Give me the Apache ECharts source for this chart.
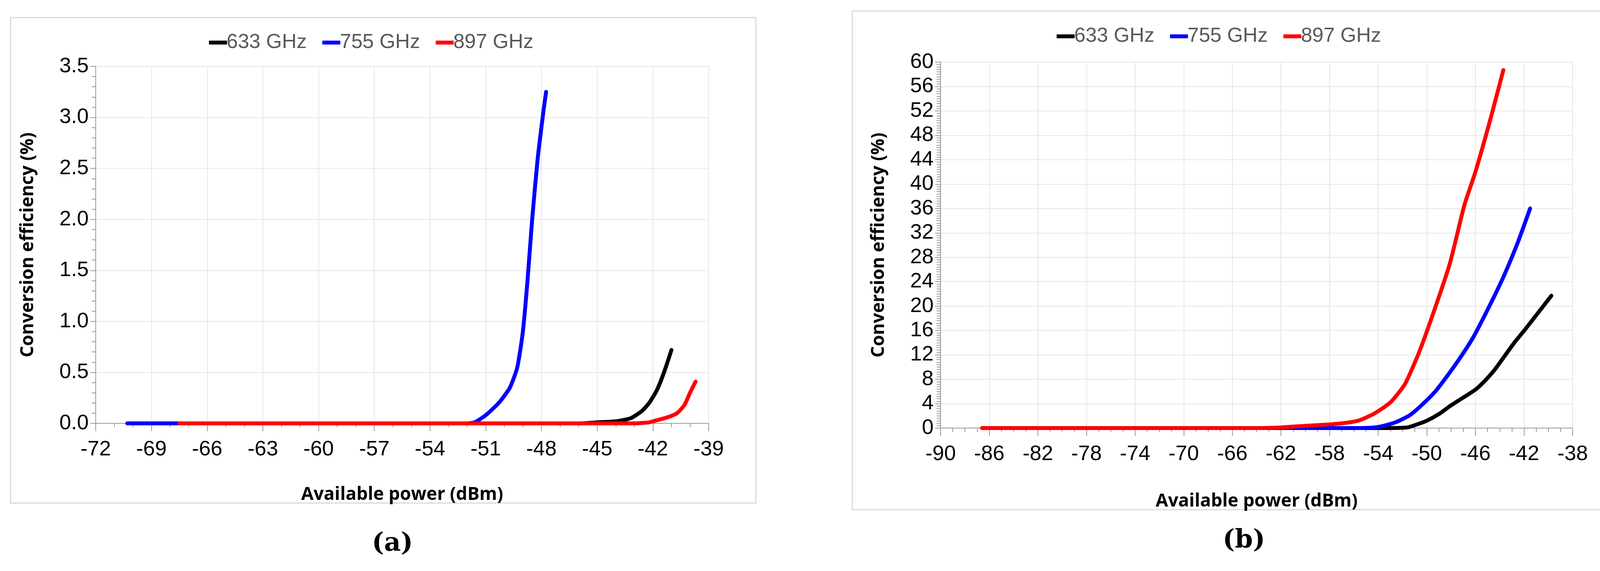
<!DOCTYPE html>
<html>
<head>
<meta charset="utf-8">
<style>
html,body{margin:0;width:100%;height:100%;background:#fff;overflow:hidden;}
#chart{width:100%;height:100%;}
</style>
</head>
<body>
<div id="chart"></div>
<script src="https://cdn.jsdelivr.net/npm/echarts@6/dist/echarts.min.js"></script>
<script>
// panel (a)
var a633 = [[-67.5,0],[-50,0],[-46,0],[-45,0.01],[-44,0.02],[-43.2,0.05],[-42.6,0.12],[-42.2,0.2],[-41.8,0.32],[-41.4,0.5],[-41.0,0.72]];
var a755 = [[-70.3,0],[-54,0],[-52,0],[-51.6,0.01],[-51,0.08],[-50.3,0.2],[-49.7,0.35],[-49.3,0.55],[-49.0,0.9],[-48.75,1.4],[-48.5,2.0],[-48.2,2.6],[-47.9,3.05],[-47.75,3.25]];
var a897 = [[-67.5,0],[-46,0],[-43,0],[-42.2,0.01],[-41.8,0.03],[-41.2,0.06],[-40.7,0.1],[-40.3,0.18],[-40.0,0.3],[-39.7,0.41]];
// panel (b)
var b633 = [[-67.5,0],[-54,0],[-51.6,0.1],[-50.8,0.6],[-50,1.2],[-49,2.3],[-48.1,3.6],[-47,5],[-46,6.3],[-45.2,7.8],[-44.4,9.6],[-43.6,11.8],[-42.8,14],[-41.9,16.2],[-40.8,19],[-39.75,21.7]];
var b755 = [[-63,0],[-56,0],[-54.3,0.1],[-53.5,0.4],[-52.5,1.0],[-51.4,2.1],[-50.4,3.8],[-49.3,6],[-48.3,8.6],[-47.3,11.4],[-46.2,14.8],[-45.2,18.6],[-44.4,21.8],[-43.6,25.2],[-42.5,30.5],[-41.5,36]];
var b897 = [[-86.6,0],[-64,0],[-62.5,0.05],[-60.5,0.3],[-58,0.6],[-56.5,0.9],[-55.5,1.3],[-54.3,2.4],[-53,4.2],[-51.8,7.2],[-50.6,12.6],[-49.3,19.8],[-48.1,27],[-46.9,36.6],[-46,42],[-44.8,50.4],[-43.7,58.7]];
var seriesNames = ['633 GHz','755 GHz','897 GHz'];
var colors = ['#000000','#0000ff','#ff0000'];
var bShift = 2; // axis b runs -90..-38 step 4; shift so ticks land on min

var chart = echarts.init(document.getElementById('chart'));
var labelFont = {fontFamily:'Liberation Sans', fontSize:54, color:'#000'};
var titleFont = {fontFamily:'Open Sans', fontSize:46, fontWeight:'bold', color:'#000'};

function xAxis(idx, min, max, interval, split, fmt){
  return {type:'value', gridIndex:idx, min:min, max:max, interval:interval,
    name:'Available power (dBm)', nameLocation:'middle', nameGap:idx==0?160:165, nameTextStyle:titleFont,
    axisLine:{onZero:false, lineStyle:{color:'#999', width:2}},
    axisTick:{show:true, length:20, lineStyle:{color:'#999', width:2}},
    minorTick:{show:true, splitNumber:split, length:10, lineStyle:{color:'#999', width:2}},
    splitLine:{show:true, lineStyle:{color:'#e6e6e6', width:2}},
    axisLabel:Object.assign({margin:40, formatter:fmt}, labelFont)};
}
function yAxis(idx, max, interval, split, dec, gap){
  return {type:'value', gridIndex:idx, min:0, max:max, interval:interval,
    name:'Conversion efficiency (%)', nameLocation:'middle', nameGap:gap, nameTextStyle:titleFont,
    axisLine:{show:true, lineStyle:{color:'#999', width:2}},
    axisTick:{show:true, length:14, lineStyle:{color:'#999', width:2}},
    minorTick:{show:true, splitNumber:split, length:10, lineStyle:{color:'#999', width:2}},
    splitLine:{show:true, lineStyle:{color:'#e6e6e6', width:2}},
    axisLabel:Object.assign({margin:18, formatter:function(v){return v.toFixed(dec);}}, labelFont)};
}
function line(name, data, idx, color){
  return {name:name, type:'line', xAxisIndex:idx, yAxisIndex:idx, data:data, smooth:0.2,
    showSymbol:false, lineStyle:{color:color, width:10, cap:'round'}, itemStyle:{color:color}};
}
function legend(left, top){
  return {data:seriesNames, left:left, top:top, icon:'rect', itemWidth:46, itemHeight:10, itemGap:40,
    textStyle:{fontFamily:'Liberation Sans', fontSize:52, color:'#595959', padding:[0,0,0,-6]}};
}

var bShifted = [b633,b755,b897].map(function(s){return s.map(function(p){return [p[0]+bShift,p[1]];});});

chart.setOption({
  animation:false,
  legend:[legend(530,78), legend(2700,62)],
  grid:[{left:245, right:4155-1873, top:170, bottom:1462-1084},
        {left:2408, right:4155-4085, top:159, bottom:1462-1096}],
  xAxis:[xAxis(0,-72,-39,3,3,function(v){return v;}),
         xAxis(1,-90+bShift,-38+bShift,4,4,function(v){return v-bShift;})],
  yAxis:[yAxis(0,3.5,0.5,5,1,150), yAxis(1,60,4,10,0,135)],
  series:[line('633 GHz',a633,0,colors[0]),line('755 GHz',a755,0,colors[1]),line('897 GHz',a897,0,colors[2]),
          line('633 GHz',bShifted[0],1,colors[0]),line('755 GHz',bShifted[1],1,colors[1]),line('897 GHz',bShifted[2],1,colors[2])],
  graphic:[
    {type:'rect', shape:{x:27,y:45,width:1908,height:1243}, style:{fill:'none', stroke:'#d9d9d9', lineWidth:3}, z:-1},
    {type:'rect', shape:{x:2182,y:28,width:1964,height:1277}, style:{fill:'none', stroke:'#d9d9d9', lineWidth:3}, z:-1},
    {type:'text', left:952, top:1360, style:{text:'(a)', font:'bold 66px "DejaVu Serif"', fill:'#000'}},
    {type:'text', left:3130, top:1352, style:{text:'(b)', font:'bold 66px "DejaVu Serif"', fill:'#000'}}
  ]
});
</script>
</body>
</html>
